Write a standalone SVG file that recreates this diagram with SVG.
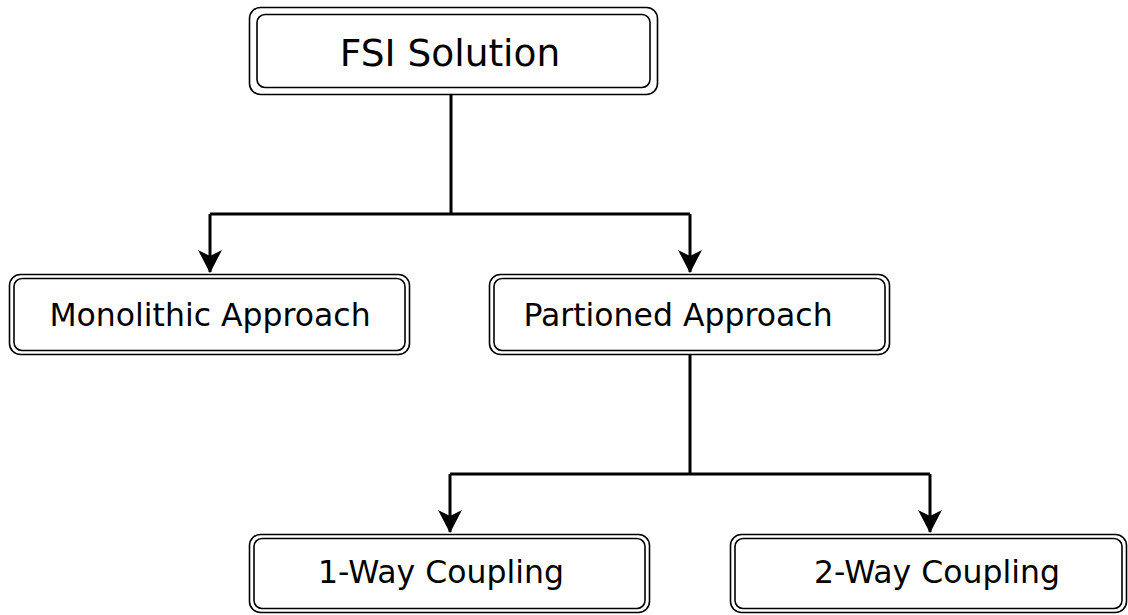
<svg xmlns="http://www.w3.org/2000/svg" width="1128" height="615" viewBox="0 0 1128 615">
<defs>
<style>
.o{fill:#fff;stroke:#000;stroke-width:1.6}
.i{fill:none;stroke:#000;stroke-width:1.6}
.t{font-family:"DejaVu Sans",sans-serif;fill:#000}
.c{fill:none;stroke:#000;stroke-width:3}
</style>
<marker id="ah" viewBox="0 0 24 24" markerWidth="24" markerHeight="24" refX="22" refY="12" orient="auto" markerUnits="userSpaceOnUse">
<path d="M0,0 L23,12 L0,24 L6,12 Z" fill="#000"/>
</marker>
</defs>
<rect width="1128" height="615" fill="#fff"/>
<g id="connectors">
<path class="c" d="M451,95 V214"/>
<path class="c" d="M210,214 H690"/>
<path class="c" d="M210,214 V272" marker-end="url(#ah)"/>
<path class="c" d="M690,214 V272" marker-end="url(#ah)"/>
<path class="c" d="M690,355 V474"/>
<path class="c" d="M450,474 H930"/>
<path class="c" d="M450,474 V532" marker-end="url(#ah)"/>
<path class="c" d="M930,474 V532" marker-end="url(#ah)"/>
</g>
<g id="fsi">
<rect class="o" x="249.5" y="7.5" width="408" height="87" rx="11"/>
<rect class="i" x="257" y="14.5" width="393" height="73" rx="8"/>
<text class="t" x="450" y="66" font-size="37.5" text-anchor="middle">FSI Solution</text>
</g>
<g id="monolithic">
<rect class="o" x="9.5" y="274.5" width="400" height="80" rx="11"/>
<rect class="i" x="14" y="278.5" width="391" height="72" rx="8"/>
<text class="t" x="210" y="326" font-size="31.5" text-anchor="middle">Monolithic Approach</text>
</g>
<g id="partioned">
<rect class="o" x="489.5" y="274.5" width="400" height="80" rx="11"/>
<rect class="i" x="494" y="278.5" width="391" height="72" rx="8"/>
<text class="t" x="678" y="326" font-size="31.5" text-anchor="middle">Partioned Approach</text>
</g>
<g id="oneway">
<rect class="o" x="249.5" y="534.5" width="400" height="78" rx="11"/>
<rect class="i" x="254" y="538.5" width="391" height="70" rx="8"/>
<text class="t" x="441" y="583" font-size="31.5" text-anchor="middle">1-Way Coupling</text>
</g>
<g id="twoway">
<rect class="o" x="730.5" y="534.5" width="396" height="78" rx="11"/>
<rect class="i" x="735" y="538.5" width="387" height="70" rx="8"/>
<text class="t" x="937" y="583" font-size="31.5" text-anchor="middle">2-Way Coupling</text>
</g>
</svg>
